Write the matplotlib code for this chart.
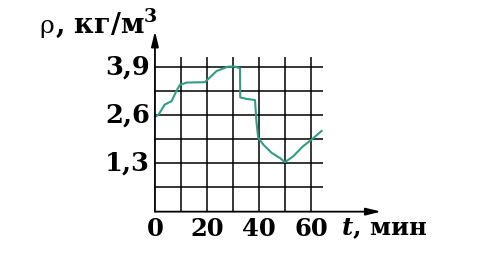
import matplotlib
matplotlib.use("Agg")
import matplotlib.pyplot as plt

# curve (t in minutes, rho in kg/m^3)
t_vals = [0, 1.3, 3.8, 6.4, 8.3, 9.6, 12.2, 19.2, 21, 23.7, 28.2, 30.8, 32.7,
          32.8, 35.3, 38.5, 39.0, 39.7, 41.7, 44.9, 48.1, 50, 53.2, 57, 60.3, 64.1]
rho_vals = [2.55, 2.6, 2.88, 2.97, 3.25, 3.41, 3.47, 3.48, 3.6, 3.78, 3.9, 3.9, 3.85,
            3.07, 3.03, 3.0, 2.45, 1.99, 1.8, 1.58, 1.44, 1.33, 1.49, 1.76, 1.94, 2.17]

grid_x = [10, 20, 30, 40, 50, 60]
grid_y = [0.65, 1.3, 1.95, 2.6, 3.25, 3.9]
xtick_pos = [0, 20, 40, 60]
xtick_lab = ["0", "20", "40", "60"]
ytick_pos = [1.3, 2.6, 3.9]
ytick_lab = ["1,3", "2,6", "3,9"]

plt.rcParams["mathtext.fontset"] = "custom"
plt.rcParams["mathtext.rm"] = "DejaVu Serif:bold"
plt.rcParams["mathtext.it"] = "DejaVu Serif:italic:bold"

fig = plt.figure(figsize=(4.82, 2.60), dpi=100)
ax = fig.add_axes([0, 0, 1, 1])
ax.set_xlim(-59.6, 125.8)
ax.set_ylim(-1.30, 5.69)
ax.axis("off")

# grid
ax.vlines(grid_x, 0, 4.16, color="black", lw=1.1)
ax.hlines(grid_y, 0, 64.5, color="black", lw=1.1)

# axes with arrows
ax.annotate("", xy=(87, 0), xytext=(0, 0),
            arrowprops=dict(arrowstyle="-|>,head_length=0.9,head_width=0.22",
                            color="black", lw=1.3, shrinkA=0, shrinkB=0))
ax.annotate("", xy=(0, 4.85), xytext=(0, 0),
            arrowprops=dict(arrowstyle="-|>,head_length=0.9,head_width=0.22",
                            color="black", lw=1.3, shrinkA=0, shrinkB=0))

# curve
ax.plot(t_vals, rho_vals, color="#2f9e84", lw=1.5, solid_joinstyle="round")

font = dict(family="DejaVu Serif", weight="bold", size=17.5)
for p, s in zip(xtick_pos, xtick_lab):
    ax.text(p, -0.47, s, ha="center", va="center", **font)
for p, s in zip(ytick_pos, ytick_lab):
    ax.text(-1.9, p, s, ha="right", va="center",
            family="DejaVu Serif", weight="bold", size=18.5)

ax.text(71.5, -0.47, "$t$, мин", ha="left", va="center", **font)
ax.text(-38.8, 4.80, "ρ", ha="right", va="baseline",
        family="DejaVu Serif", size=18)
ax.text(-38.6, 4.80, ", кг/м$^3$", ha="left", va="baseline",
        family="DejaVu Serif", weight="bold", size=19.5)

fig.savefig("out.png", dpi=100, facecolor="white")
